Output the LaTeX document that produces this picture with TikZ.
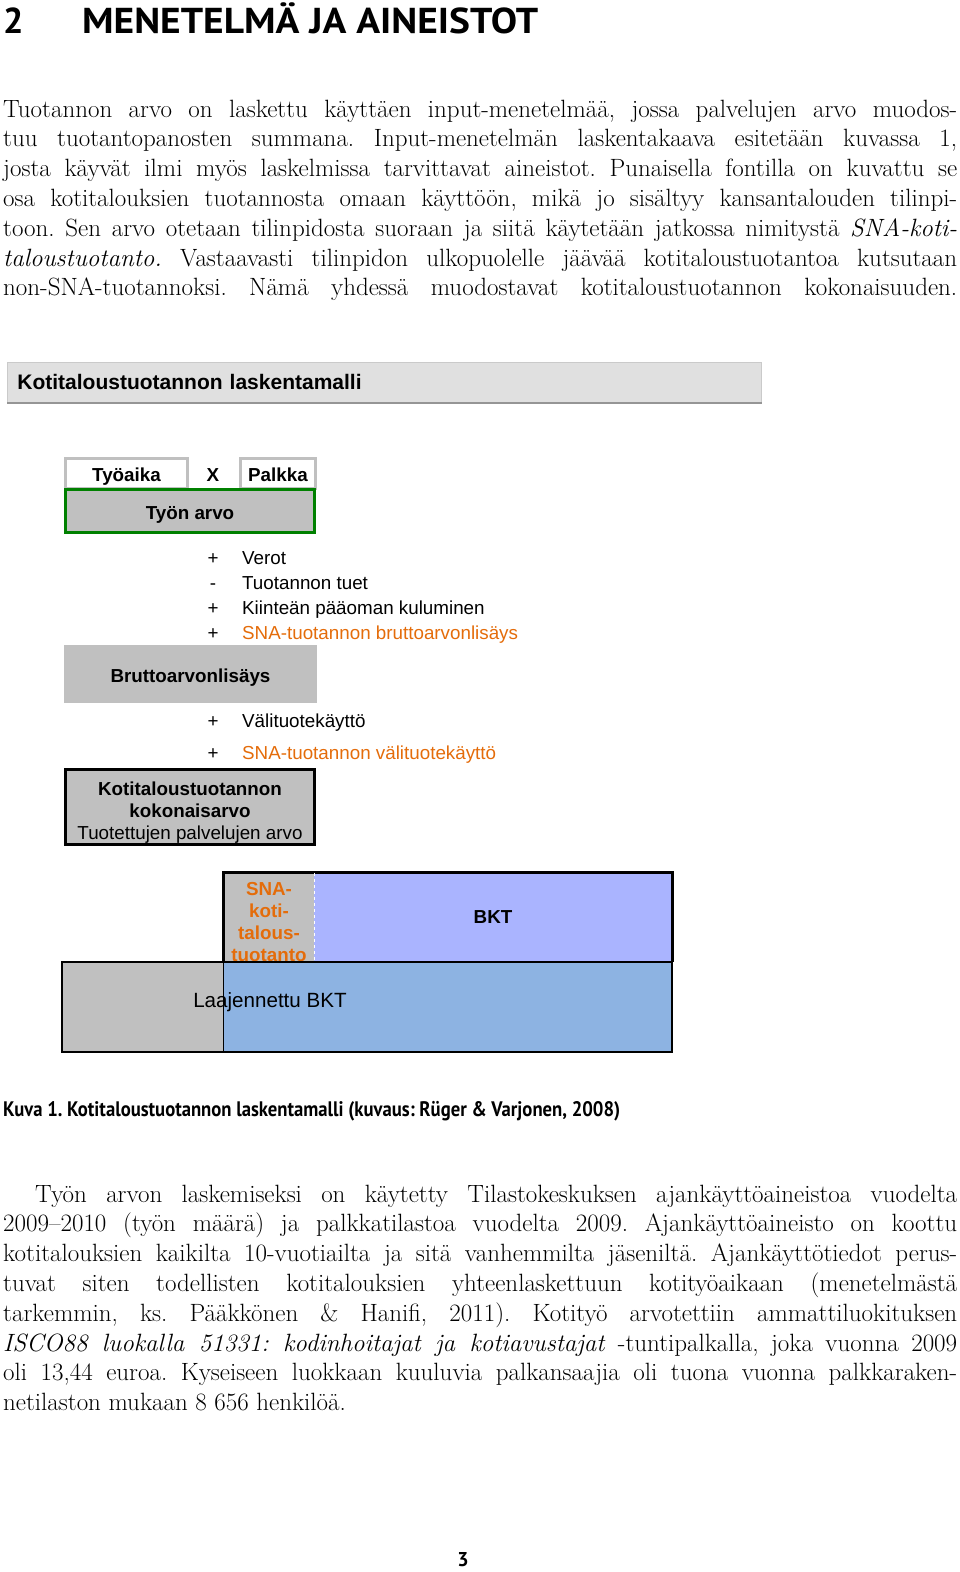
\documentclass[tikz,border=0pt]{standalone}
\usepackage{fontspec}
\usepackage{graphicx}
\newfontfamily\headfont{PT Sans}
\newfontfamily\arialfont{Liberation Sans}
\frenchspacing

\definecolor{boxgray}{HTML}{C0C0C0}
\definecolor{bargray}{HTML}{E0E0E0}
\definecolor{barline}{HTML}{CACACA}
\definecolor{barshadow}{HTML}{959595}
\definecolor{snaorange}{HTML}{E46C0A}
\definecolor{boxgreen}{HTML}{008000}
\definecolor{bktblue}{HTML}{AAB4FF}
\definecolor{laajblue}{HTML}{8DB3E2}

\newcommand{\diagfont}{\arialfont\fontsize{18.8}{22}\selectfont}
\newcommand{\jline}[1]{\hbox to 954pt{#1}}
\newcommand{\textblock}[1]{\vtop{\hsize=954pt #1}}

\tikzstyle{bodytext} = [anchor=base west, inner sep=0pt, font=\fontsize{25}{29.8}\selectfont]
\tikzstyle{headtext} = [anchor=base west, inner sep=0pt, font=\headfont\bfseries\fontsize{36}{40}\selectfont]
\tikzstyle{titlebar} = [rectangle, draw=barline, fill=bargray, line width=0.8pt, inner ysep=0pt, font=\arialfont\bfseries\fontsize{21}{24}\selectfont]
\tikzstyle{framebox} = [rectangle, inner sep=0pt, font=\diagfont\bfseries, text height=17pt, text depth=0.5pt]
\tikzstyle{factorbox} = [framebox, draw=boxgray, fill=white, line width=3pt, minimum height=30pt]
\tikzstyle{graybox} = [framebox, fill=boxgray]
\tikzstyle{boxlabel} = [anchor=base, inner sep=0pt, align=center]
\tikzstyle{sign} = [anchor=base, inner sep=0pt, font=\diagfont]
\tikzstyle{item} = [anchor=base west, inner sep=0pt, font=\diagfont]
\tikzstyle{snaitem} = [item, text=snaorange]

\begin{document}
\begin{tikzpicture}[x=1pt, y=-1pt]
\useasboundingbox (0,0) rectangle (960,1572);

% otsikko ja teksti
\node [headtext] (secnum) at (3,33.5) {2};
\node [headtext] (sectitle) at (82,33.5) {\resizebox{456pt}{\height}{MENETELMÄ JA AINEISTOT}};

\node [bodytext] (para1) at (3,117) {\textblock{%
\jline{Tuotannon arvo on laskettu käyttäen input-menetelmää, jossa palvelujen arvo muodos-}
\jline{tuu tuotantopanosten summana. Input-menetelmän laskentakaava esitetään kuvassa 1,}
\jline{josta käyvät ilmi myös laskelmissa tarvittavat aineistot. Punaisella fontilla on kuvattu se}
\jline{osa kotitalouksien tuotannosta omaan käyttöön, mikä jo sisältyy kansantalouden tilinpi-}
\jline{toon. Sen arvo otetaan tilinpidosta suoraan ja siitä käytetään jatkossa nimitystä \textit{SNA-koti-}}
\jline{\textit{taloustuotanto.} Vastaavasti tilinpidon ulkopuolelle jäävää kotitaloustuotantoa kutsutaan}
\jline{non-SNA-tuotannoksi. Nämä yhdessä muodostavat kotitaloustuotannon kokonaisuuden.}}};

% kuva
\node [titlebar, anchor=north west, minimum height=40pt, text width=734pt, inner xsep=10pt] (bar) at (7,362) {Kotitaloustuotannon laskentamalli};
\draw [barshadow, line width=1.6pt] (bar.south west) -- (bar.south east);

\node [factorbox, minimum width=122pt] (tyoaika) at (126.5,473.5) {Työaika};
\node [factorbox, minimum width=75pt] (palkka) at (278,473.5) {Palkka};
\node [sign, font=\diagfont\bfseries] (times) at (213,481) {X};
\node [graybox, draw=boxgreen, line width=3pt, minimum width=249pt, minimum height=43pt] (tyonarvo) at (190,511) {Työn arvo};

\node [sign] (s1) at (213,564) {+};
\node [item] (verot) at (242,564) {Verot};
\node [sign] (s2) at (213,589) {-};
\node [item] (tuet) at (242,589) {Tuotannon tuet};
\node [sign] (s3) at (213,614) {+};
\node [item] (kuluminen) at (242,614) {Kiinteän pääoman kuluminen};
\node [sign] (s4) at (213,639) {+};
\node [snaitem] (snabrutto) at (242,639) {SNA-tuotannon bruttoarvonlisäys};

\node [graybox, minimum width=253pt, minimum height=58pt] (brutto) at (190.5,674) {Bruttoarvonlisäys};

\node [sign] (s5) at (213,727) {+};
\node [item] (valituote) at (242,727) {Välituotekäyttö};
\node [sign] (s6) at (213,759) {+};
\node [snaitem] (snavali) at (242,759) {SNA-tuotannon välituotekäyttö};

\node [graybox, draw=black, line width=3pt, minimum width=249pt, minimum height=75pt] (kokonais) at (190,807) {};
\node [boxlabel, font=\diagfont] (kokonaistext) at (190,839)
  {\textbf{Kotitaloustuotannon}\\\textbf{kokonaisarvo}\\Tuotettujen palvelujen arvo};

\node [graybox, minimum width=90pt, minimum height=89pt] (snabox) at (269,917.5) {};
\node [boxlabel, text=snaorange, font=\arialfont\bfseries\fontsize{18.8}{21.7}\selectfont] (snatext) at (269,961)
  {SNA-\\koti-\\talous-\\tuotanto};
\node [framebox, fill=bktblue, minimum width=358pt, minimum height=89pt, text height=13.5pt, text depth=2.5pt] (bktbox) at (493,917.5) {BKT};
\node [graybox, minimum width=162pt, minimum height=90pt] (laajgray) at (143,1007) {};
\node [framebox, fill=laajblue, minimum width=448pt, minimum height=90pt] (laajbox) at (448,1007) {};
\node [boxlabel, font=\arialfont\fontsize{20.6}{24}\selectfont] (laajtext) at (270,1007.5) {Laajennettu BKT};

\draw [line width=3pt] (snabox.south west) |- (bktbox.north east) -- (bktbox.south east);
\draw [line width=2.5pt] (laajgray.north west) rectangle (laajbox.south east);
\draw [line width=1pt] (laajbox.north west) -- (laajbox.south west);
\draw [white, dashed, line width=1pt] (snabox.north east) -- (snabox.south east);

\node [headtext, font=\headfont\bfseries\fontsize{21}{24}\selectfont] (caption) at (3,1116)
  {\resizebox{617pt}{\height}{Kuva 1. Kotitaloustuotannon laskentamalli (kuvaus: Rüger \& Varjonen, 2008)}};

\node [bodytext] (para2) at (3,1202) {\textblock{%
\jline{\hskip 32pt Työn arvon laskemiseksi on käytetty Tilastokeskuksen ajankäyttöaineistoa vuodelta}
\jline{2009–2010 (työn määrä) ja palkkatilastoa vuodelta 2009. Ajankäyttöaineisto on koottu}
\jline{kotitalouksien kaikilta 10-vuotiailta ja sitä vanhemmilta jäseniltä. Ajankäyttötiedot perus-}
\jline{tuvat siten todellisten kotitalouksien yhteenlaskettuun kotityöaikaan (menetelmästä}
\jline{tarkemmin, ks. Pääkkönen \& Hanifi, 2011). Kotityö arvotettiin ammattiluokituksen}
\jline{\textit{ISCO88 luokalla 51331: kodinhoitajat ja kotiavustajat} -tuntipalkalla, joka vuonna 2009}
\jline{oli 13,44 euroa. Kyseiseen luokkaan kuuluvia palkansaajia oli tuona vuonna palkkaraken-}
\hbox{netilaston mukaan 8~656 henkilöä.}}};

\node [anchor=base, inner sep=0pt, font=\headfont\bfseries\fontsize{20}{24}\selectfont] (pagenum) at (463,1566) {3};
\end{tikzpicture}
\end{document}
